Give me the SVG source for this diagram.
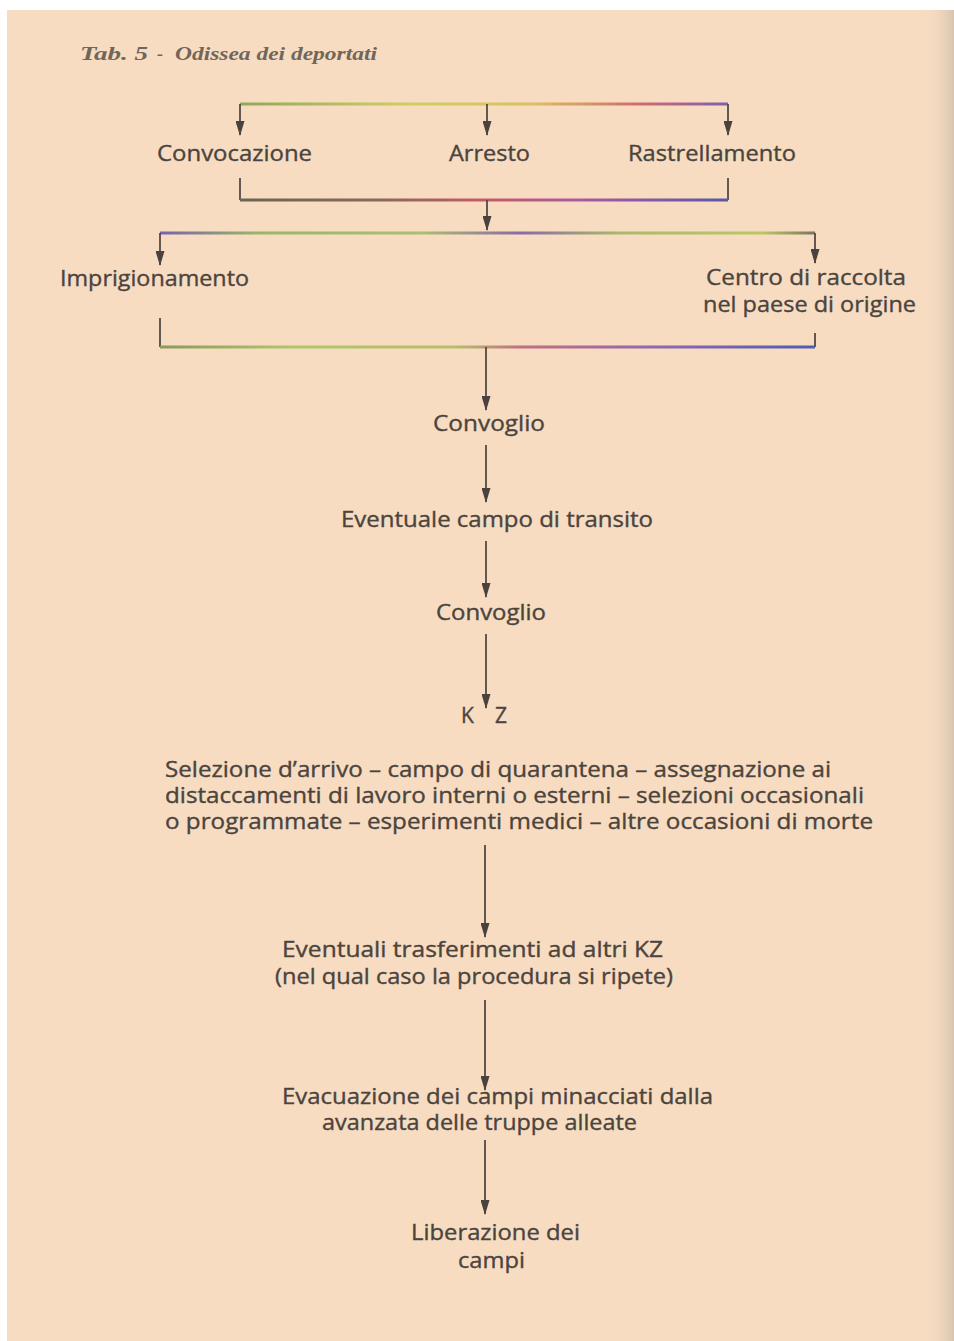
<svg xmlns="http://www.w3.org/2000/svg" width="954" height="1341" viewBox="0 0 954 1341">
<defs>
<style>
.t{font-family:"Open Sans","Liberation Sans",sans-serif;font-size:21px;font-weight:500;fill:#4b443e;stroke:#4b443e;stroke-width:0.35}
.ttl{font-family:"Liberation Serif",serif;font-style:italic;font-weight:bold;font-size:18px;fill:#716659}
.v{stroke:#514a44;stroke-width:1.8;fill:none}
.h{stroke-width:3;fill:none}
</style>
<marker id="ah" viewBox="0 0 15 9" refX="14" refY="4.5" markerWidth="15" markerHeight="9" markerUnits="userSpaceOnUse" orient="auto">
<path d="M0,0 L15,4.5 L0,9 Z" fill="#4a433d"/>
</marker>
<linearGradient id="g1" gradientUnits="userSpaceOnUse" x1="240" y1="0" x2="728" y2="0">
<stop offset="0" stop-color="#8fa85a"/><stop offset="0.35" stop-color="#cfcf62"/><stop offset="0.6" stop-color="#d9c060"/><stop offset="0.82" stop-color="#d06a72"/><stop offset="1" stop-color="#7e5fb0"/>
</linearGradient>
<linearGradient id="g2" gradientUnits="userSpaceOnUse" x1="240" y1="0" x2="728" y2="0">
<stop offset="0" stop-color="#6b6552"/><stop offset="0.3" stop-color="#8a6a5a"/><stop offset="0.5" stop-color="#c85a6a"/><stop offset="0.7" stop-color="#a85aa0"/><stop offset="1" stop-color="#5a58a8"/>
</linearGradient>
<linearGradient id="g3" gradientUnits="userSpaceOnUse" x1="160" y1="0" x2="815" y2="0">
<stop offset="0" stop-color="#7664a8"/><stop offset="0.15" stop-color="#9ab66a"/><stop offset="0.4" stop-color="#a8c070"/><stop offset="0.55" stop-color="#8a6aa8"/><stop offset="0.7" stop-color="#a8bb6a"/><stop offset="0.92" stop-color="#b8c866"/><stop offset="1" stop-color="#7a7560"/>
</linearGradient>
<linearGradient id="g4" gradientUnits="userSpaceOnUse" x1="160" y1="0" x2="815" y2="0">
<stop offset="0" stop-color="#8a9a5a"/><stop offset="0.2" stop-color="#b2c46a"/><stop offset="0.45" stop-color="#b4c06a"/><stop offset="0.55" stop-color="#c07080"/><stop offset="0.75" stop-color="#9068b0"/><stop offset="1" stop-color="#4f5db0"/>
</linearGradient>
<linearGradient id="edge" x1="0" y1="0" x2="1" y2="0">
<stop offset="0" stop-color="#f6dcc2" stop-opacity="0"/><stop offset="1" stop-color="#d8c4b0"/>
</linearGradient>
</defs>
<rect x="0" y="0" width="954" height="1341" fill="#ffffff"/>
<rect x="7" y="10" width="947" height="1331" fill="#f7dcc1"/>
<rect x="925" y="10" width="29" height="1331" fill="url(#edge)"/>

<g id="title">
<text class="ttl" x="80" y="60" textLength="68" lengthAdjust="spacingAndGlyphs">Tab. 5</text>
<text class="ttl" x="157" y="60">-</text>
<text class="ttl" x="175" y="60" textLength="202" lengthAdjust="spacingAndGlyphs">Odissea dei deportati</text>
</g>

<g id="connectors">
<line class="h" stroke="url(#g1)" x1="240" y1="104" x2="728" y2="104"/>
<line class="v" x1="240" y1="104" x2="240" y2="135" marker-end="url(#ah)"/>
<line class="v" x1="487" y1="104" x2="487" y2="135" marker-end="url(#ah)"/>
<line class="v" x1="728" y1="104" x2="728" y2="135" marker-end="url(#ah)"/>
<line class="v" x1="240" y1="178" x2="240" y2="200"/>
<line class="v" x1="728" y1="178" x2="728" y2="200"/>
<line class="h" stroke="url(#g2)" x1="240" y1="200" x2="728" y2="200"/>
<line class="v" x1="487" y1="200" x2="487" y2="230" marker-end="url(#ah)"/>
<line class="h" stroke="url(#g3)" x1="160" y1="233" x2="815" y2="233"/>
<line class="v" x1="160" y1="233" x2="160" y2="265" marker-end="url(#ah)"/>
<line class="v" x1="815" y1="233" x2="815" y2="263" marker-end="url(#ah)"/>
<line class="v" x1="160" y1="318" x2="160" y2="347"/>
<line class="v" x1="815" y1="333" x2="815" y2="347"/>
<line class="h" stroke="url(#g4)" x1="160" y1="347" x2="815" y2="347"/>
<line class="v" x1="486" y1="347" x2="486" y2="410" marker-end="url(#ah)"/>
<line class="v" x1="486" y1="445" x2="486" y2="502" marker-end="url(#ah)"/>
<line class="v" x1="486" y1="541" x2="486" y2="597" marker-end="url(#ah)"/>
<line class="v" x1="486" y1="634" x2="486" y2="708" marker-end="url(#ah)"/>
<line class="v" x1="485" y1="845" x2="485" y2="937" marker-end="url(#ah)"/>
<line class="v" x1="485" y1="1000" x2="485" y2="1090" marker-end="url(#ah)"/>
<line class="v" x1="485" y1="1140" x2="485" y2="1214" marker-end="url(#ah)"/>
</g>

<g id="n-convocazione"><text class="t" x="157" y="161" textLength="155" lengthAdjust="spacingAndGlyphs">Convocazione</text></g>
<g id="n-arresto"><text class="t" x="449" y="161" textLength="81" lengthAdjust="spacingAndGlyphs">Arresto</text></g>
<g id="n-rastrellamento"><text class="t" x="628" y="161" textLength="168" lengthAdjust="spacingAndGlyphs">Rastrellamento</text></g>
<g id="n-imprigionamento"><text class="t" x="60" y="286" textLength="189" lengthAdjust="spacingAndGlyphs">Imprigionamento</text></g>
<g id="n-centro">
<text class="t" x="706" y="285" textLength="200" lengthAdjust="spacingAndGlyphs">Centro di raccolta</text>
<text class="t" x="703" y="312" textLength="213" lengthAdjust="spacingAndGlyphs">nel paese di origine</text>
</g>
<g id="n-convoglio1"><text class="t" x="433" y="431" textLength="112" lengthAdjust="spacingAndGlyphs">Convoglio</text></g>
<g id="n-transito"><text class="t" x="341" y="527" textLength="312" lengthAdjust="spacingAndGlyphs">Eventuale campo di transito</text></g>
<g id="n-convoglio2"><text class="t" x="436" y="620" textLength="110" lengthAdjust="spacingAndGlyphs">Convoglio</text></g>
<g id="n-kz"><text class="t" x="461" y="723" textLength="46" lengthAdjust="spacing">K Z</text></g>
<g id="n-selezione">
<text class="t" x="165" y="777" textLength="666" lengthAdjust="spacingAndGlyphs">Selezione d’arrivo – campo di quarantena – assegnazione ai</text>
<text class="t" x="165" y="803" textLength="699" lengthAdjust="spacingAndGlyphs">distaccamenti di lavoro interni o esterni – selezioni occasionali</text>
<text class="t" x="165" y="829" textLength="708" lengthAdjust="spacingAndGlyphs">o programmate – esperimenti medici – altre occasioni di morte</text>
</g>
<g id="n-trasferimenti">
<text class="t" x="282" y="957" textLength="381" lengthAdjust="spacingAndGlyphs">Eventuali trasferimenti ad altri KZ</text>
<text class="t" x="275" y="984" textLength="398" lengthAdjust="spacingAndGlyphs">(nel qual caso la procedura si ripete)</text>
</g>
<g id="n-evacuazione">
<text class="t" x="282" y="1104" textLength="431" lengthAdjust="spacingAndGlyphs">Evacuazione dei campi minacciati dalla</text>
<text class="t" x="322" y="1130" textLength="315" lengthAdjust="spacingAndGlyphs">avanzata delle truppe alleate</text>
</g>
<g id="n-liberazione">
<text class="t" x="411" y="1240" textLength="169" lengthAdjust="spacingAndGlyphs">Liberazione dei</text>
<text class="t" x="458" y="1268" textLength="67" lengthAdjust="spacingAndGlyphs">campi</text>
</g>
</svg>
